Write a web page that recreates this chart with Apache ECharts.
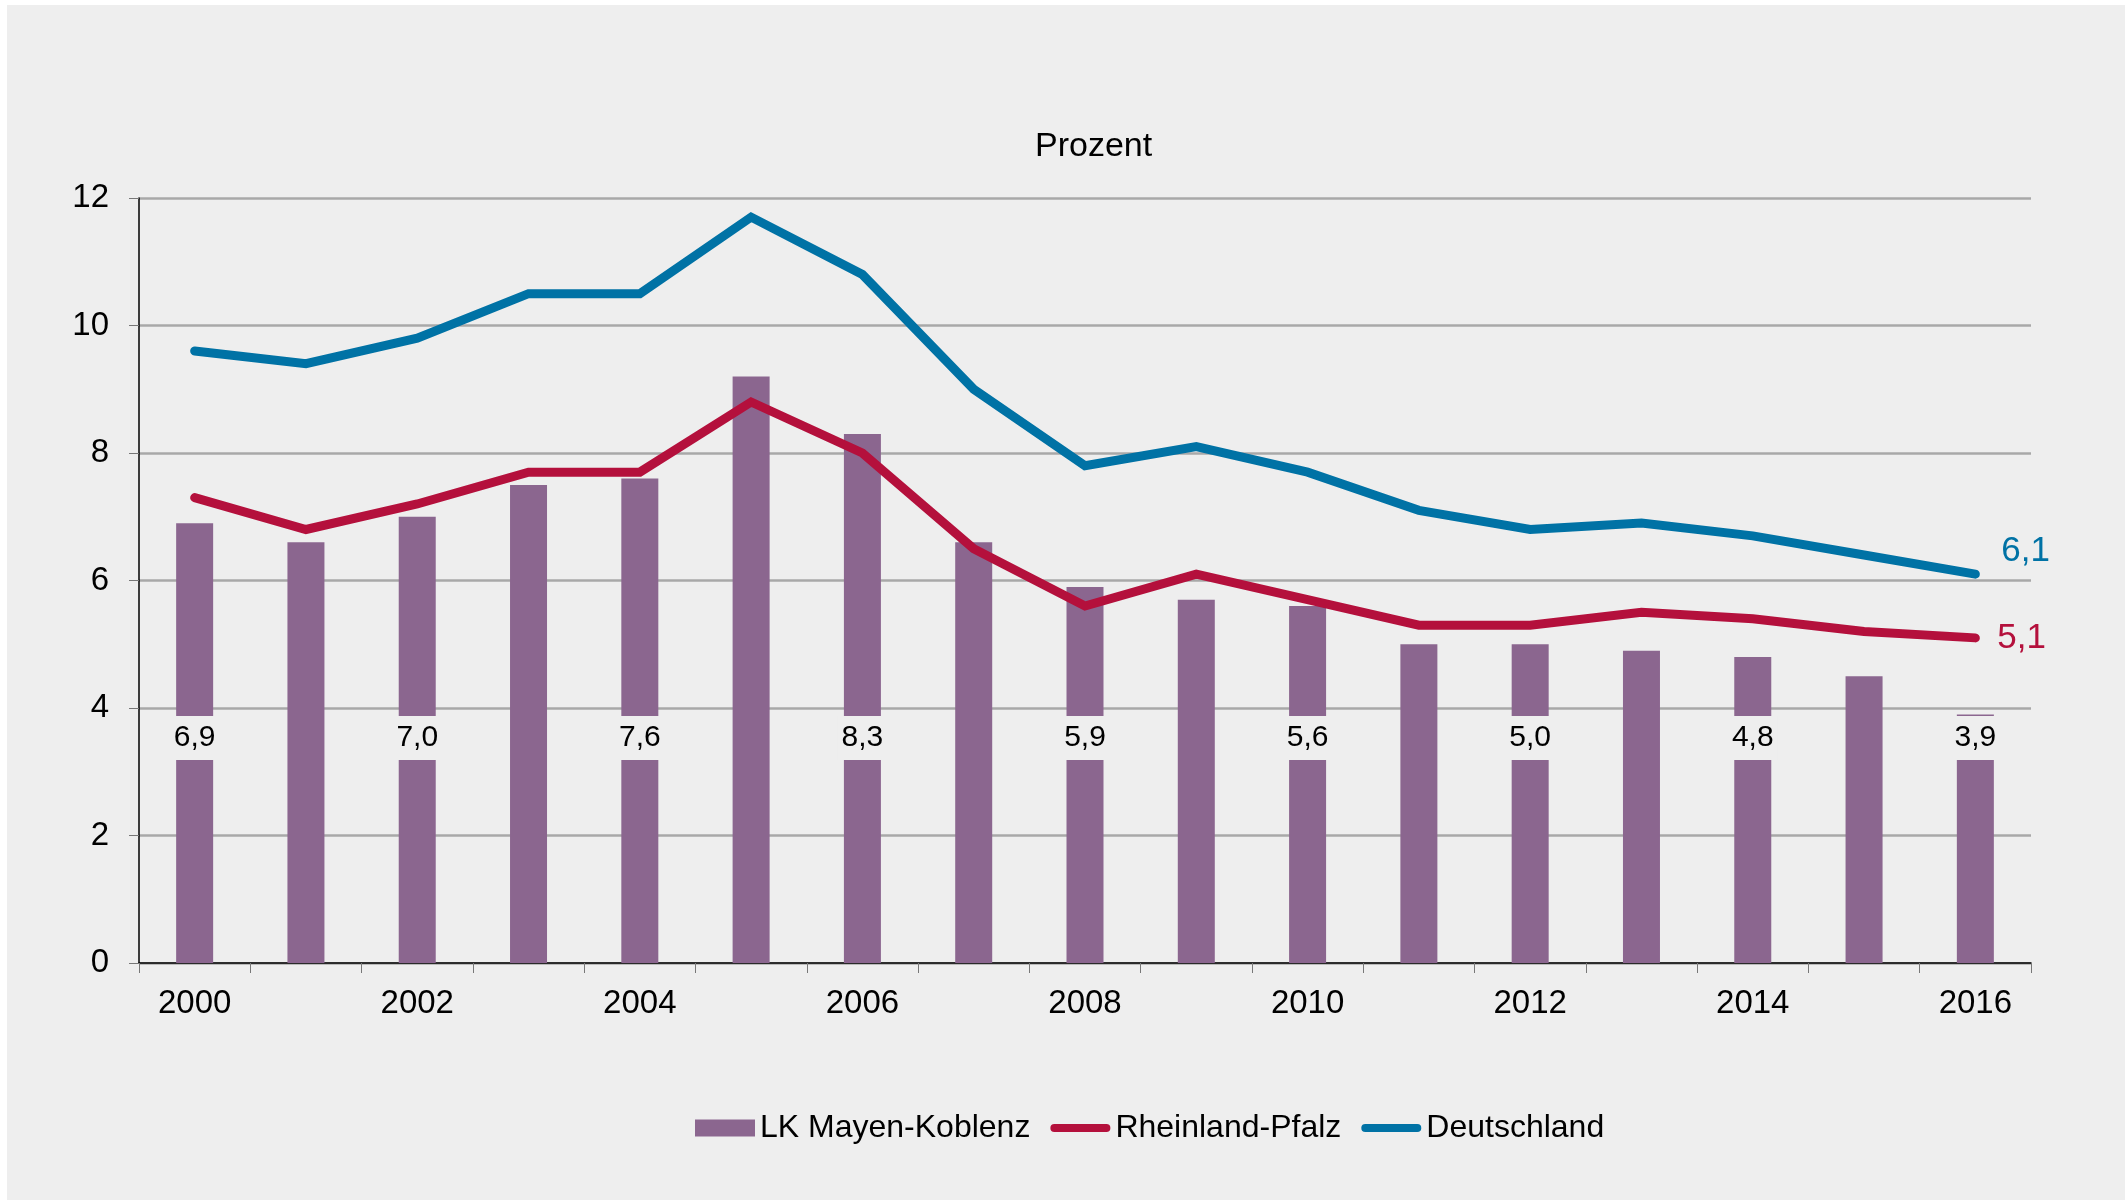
<!DOCTYPE html>
<html>
<head>
<meta charset="utf-8">
<title>Prozent</title>
<script src="https://cdn.jsdelivr.net/npm/echarts@6/dist/echarts.min.js"></script>
<style>
  html, body {
    margin: 0;
    padding: 0;
    background: #ffffff;
  }
  #chart {
    position: absolute;
    left: 7px;
    top: 5px;
    width: 2118px;
    height: 1195px;
  }
</style>
</head>
<body>
<div id="chart"></div>
<script>
// Jahre und Werte in Prozent
var years = ['2000', '2001', '2002', '2003', '2004', '2005', '2006', '2007', '2008',
  '2009', '2010', '2011', '2012', '2013', '2014', '2015', '2016']
var mayenKoblenz = [6.9, 6.6, 7.0, 7.5, 7.6, 9.2, 8.3, 6.6, 5.9, 5.7, 5.6, 5.0, 5.0, 4.9, 4.8, 4.5, 3.9]
var rheinlandPfalz = [7.3, 6.8, 7.2, 7.7, 7.7, 8.8, 8.0, 6.5, 5.6, 6.1, 5.7, 5.3, 5.3, 5.5, 5.4, 5.2, 5.1]
var deutschland = [9.6, 9.4, 9.8, 10.5, 10.5, 11.7, 10.8, 9.0, 7.8, 8.1, 7.7, 7.1, 6.8, 6.9, 6.7, 6.4, 6.1]

var FONT = 'Liberation Sans, Arial, sans-serif'
var BG = '#eeeeee'
var PURPLE = '#8b668f'
var RED = '#b4103c'
var BLUE = '#0072a5'

// dicke Linie mit runden Enden fuer die Legende
var LINE_ICON = 'path://M4,0 L56,0 A4,4 0 0 1 56,8 L4,8 A4,4 0 0 1 4,0 Z'

function komma(v) {
  return v.toFixed(1).replace('.', ',')
}

var chart = echarts.init(document.getElementById('chart'))

// nur jedes zweite Jahr bekommt ein Wertelabel
var barData = mayenKoblenz.map(function (v, i) {
  return {
    value: v,
    label: { show: i % 2 === 0 }
  }
})

chart.setOption({
  backgroundColor: BG,
  animation: false,
  textStyle: { fontFamily: FONT },
  title: {
    text: 'Prozent',
    left: 1023,
    top: 120,
    textStyle: { fontFamily: FONT, fontSize: 34, fontWeight: 'normal', color: '#000' }
  },
  legend: {
    left: 683,
    top: 1102,
    itemWidth: 60,
    itemHeight: 17,
    itemGap: 20,
    symbolKeepAspect: true,
    textStyle: { fontFamily: FONT, fontSize: 32, color: '#000' },
    data: [
      { name: 'LK Mayen-Koblenz', icon: 'rect' },
      { name: 'Rheinland-Pfalz', icon: LINE_ICON, itemStyle: { color: RED } },
      { name: 'Deutschland', icon: LINE_ICON, itemStyle: { color: BLUE } }
    ]
  },
  grid: {
    left: 132,
    right: 94,
    top: 193,
    bottom: 237
  },
  xAxis: {
    type: 'category',
    data: years,
    boundaryGap: true,
    axisLine: { lineStyle: { color: '#000', width: 1.5 } },
    axisTick: { show: true, interval: 0, length: 10, lineStyle: { color: '#777' } },
    axisLabel: { interval: 1, margin: 24, fontSize: 33, color: '#000', fontFamily: FONT }
  },
  yAxis: {
    type: 'value',
    min: 0,
    max: 12,
    interval: 2,
    axisLine: { show: true, lineStyle: { color: '#000', width: 1.5 } },
    axisTick: { show: true, length: 10, lineStyle: { color: '#777' } },
    axisLabel: { margin: 30, fontSize: 33, color: '#000', fontFamily: FONT },
    splitLine: { lineStyle: { color: '#a8a8a8', width: 2.5 } }
  },
  series: [
    {
      name: 'LK Mayen-Koblenz',
      type: 'bar',
      data: barData,
      barWidth: 37,
      itemStyle: { color: PURPLE },
      label: {
        position: 'insideBottom',
        distance: 203,
        fontSize: 30,
        lineHeight: 30,
        color: '#000',
        fontFamily: FONT,
        backgroundColor: BG,
        padding: [7, 4],
        formatter: function (p) { return komma(p.value) }
      }
    },
    {
      name: 'Rheinland-Pfalz',
      type: 'line',
      data: rheinlandPfalz,
      symbol: 'none',
      itemStyle: { color: RED },
      lineStyle: { color: RED, width: 9, cap: 'round', join: 'miter' },
      endLabel: {
        show: true,
        distance: 22,
        fontSize: 35,
        color: RED,
        fontFamily: FONT,
        formatter: function (p) { return komma(p.value) }
      },
      z: 3
    },
    {
      name: 'Deutschland',
      type: 'line',
      data: deutschland,
      symbol: 'none',
      itemStyle: { color: BLUE },
      lineStyle: { color: BLUE, width: 9, cap: 'round', join: 'miter' },
      endLabel: {
        show: true,
        distance: 26,
        offset: [0, -23],
        fontSize: 35,
        color: BLUE,
        fontFamily: FONT,
        formatter: function (p) { return komma(p.value) }
      },
      z: 4
    }
  ]
})
</script>
</body>
</html>
